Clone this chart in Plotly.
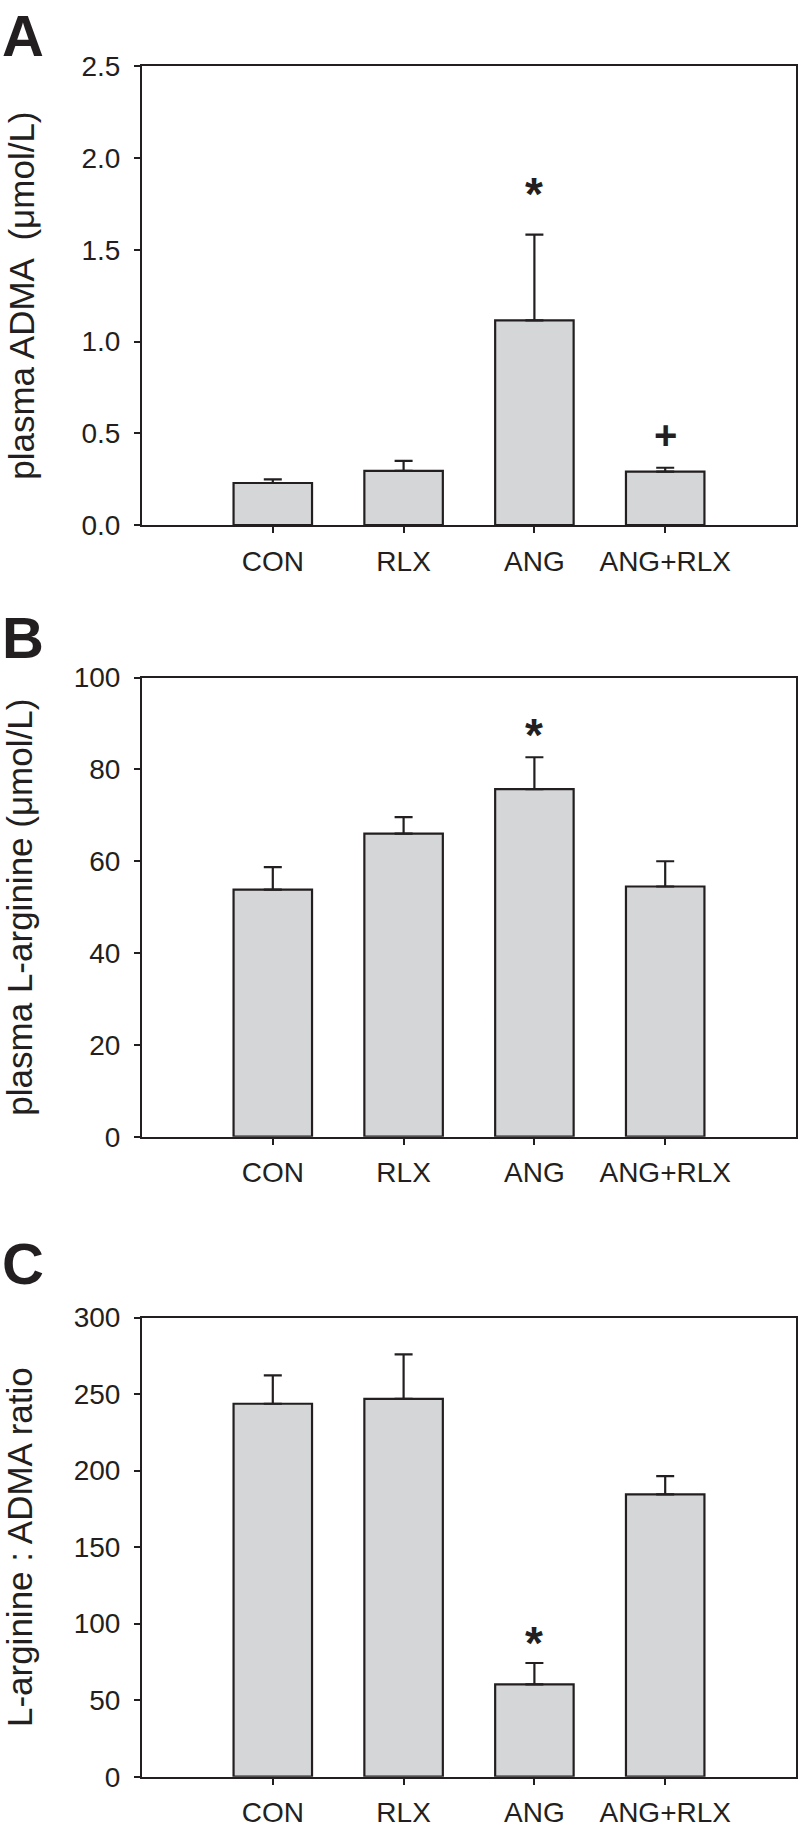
import plotly.graph_objects as go

categories = ["CON", "RLX", "ANG", "ANG+RLX"]

adma_mean = [0.23, 0.296, 1.116, 0.292]
adma_err = [0.02, 0.054, 0.466, 0.021]

larg_mean = [53.8, 66.0, 75.7, 54.5]
larg_err = [4.9, 3.6, 6.95, 5.5]

ratio_mean = [243.7, 246.9, 60.3, 184.5]
ratio_err = [18.5, 29.1, 14.0, 11.9]

panel_letters = ["A", "B", "C"]
y_titles = ["plasma ADMA  (\u03bcmol/L)", "plasma L-arginine (\u03bcmol/L)", "L-arginine : ADMA ratio"]
y_ranges = [[0, 2.5], [0, 100], [0, 300]]
y_dticks = [0.5, 20, 50]
y_tickformats = [".1f", "d", "d"]

# significance markers: (panel, category, text, y value)
marks = [(0, "ANG", "*", 1.805), (0, "ANG+RLX", "+", 0.49), (1, "ANG", "*", 87.6), (2, "ANG", "*", 87.6)]

W, H = 798, 1833
dom_x = [142 / W, 796 / W]
px_dom = [(52, 519), (674, 1141), (1325, 1792)]
letter_top = [-14, 598, 1235]

INK = "#231f20"
FILL = "#d5d6d8"
FONT = "Liberation Sans, Arial, sans-serif"

fig = go.Figure()
series = [(adma_mean, adma_err), (larg_mean, larg_err), (ratio_mean, ratio_err)]
for i, (m, e) in enumerate(series):
    sfx = "" if i == 0 else str(i + 1)
    fig.add_trace(go.Bar(
        x=categories, y=m,
        xaxis="x" + sfx, yaxis="y" + sfx,
        width=0.6,
        marker=dict(color=FILL, line=dict(color=INK, width=2.2)),
        error_y=dict(type="data", array=e, arrayminus=[0] * len(e), symmetric=False,
                     color=INK, thickness=2.2, width=9),
        showlegend=False, hoverinfo="skip",
    ))
    top, bot = px_dom[i]
    ydom = [1 - bot / H, 1 - top / H]
    fig.layout["xaxis" + sfx] = dict(
        domain=dom_x, anchor="y" + sfx, range=[-1, 4],
        showline=True, linecolor=INK, linewidth=2, mirror=True,
        ticks="outside", ticklen=6, tickwidth=2, tickcolor=INK,
        tickfont=dict(family=FONT, size=28, color=INK),
        ticklabelstandoff=4,
        showgrid=False, zeroline=False, fixedrange=True,
    )
    fig.layout["yaxis" + sfx] = dict(
        domain=ydom, anchor="x" + sfx, range=y_ranges[i], dtick=y_dticks[i], tick0=0,
        tickformat=y_tickformats[i],
        showline=True, linecolor=INK, linewidth=2, mirror=True,
        ticks="outside", ticklen=6, tickwidth=2, tickcolor=INK,
        tickfont=dict(family=FONT, size=28, color=INK),
        ticklabelstandoff=8,
        title=dict(text=y_titles[i], font=dict(family=FONT, size=35, color=INK), standoff=36),
        showgrid=False, zeroline=False, fixedrange=True,
    )
    fig.add_annotation(
        text="<b>%s</b>" % panel_letters[i], xref="paper", yref="paper",
        x=0, y=1 - letter_top[i] / H, xanchor="left", yanchor="top",
        showarrow=False, font=dict(family=FONT, size=58, color=INK),
    )

for p, cat, txt, yv in marks:
    sfx = "" if p == 0 else str(p + 1)
    fig.add_annotation(
        text="<b>%s</b>" % txt, x=cat, y=yv, xref="x" + sfx, yref="y" + sfx,
        showarrow=False, yanchor="middle",
        font=dict(family=FONT, size=46 if txt == "*" else 40, color=INK),
    )

fig.update_layout(
    width=W, height=H,
    margin=dict(l=0, r=0, t=0, b=0),
    paper_bgcolor="white", plot_bgcolor="white",
    bargap=0.4,
)

post = (
    "document.documentElement.style.margin='0';"
    "document.body.style.margin='0';"
    "document.documentElement.style.overflow='hidden';"
    "document.body.style.overflow='hidden';"
    "var gd=document.getElementById('{plot_id}');"
    "gd.style.position='fixed';gd.style.top='0px';gd.style.left='0px';"
)
fig.write_html("out.html", config={"displayModeBar": False}, post_script=post)
